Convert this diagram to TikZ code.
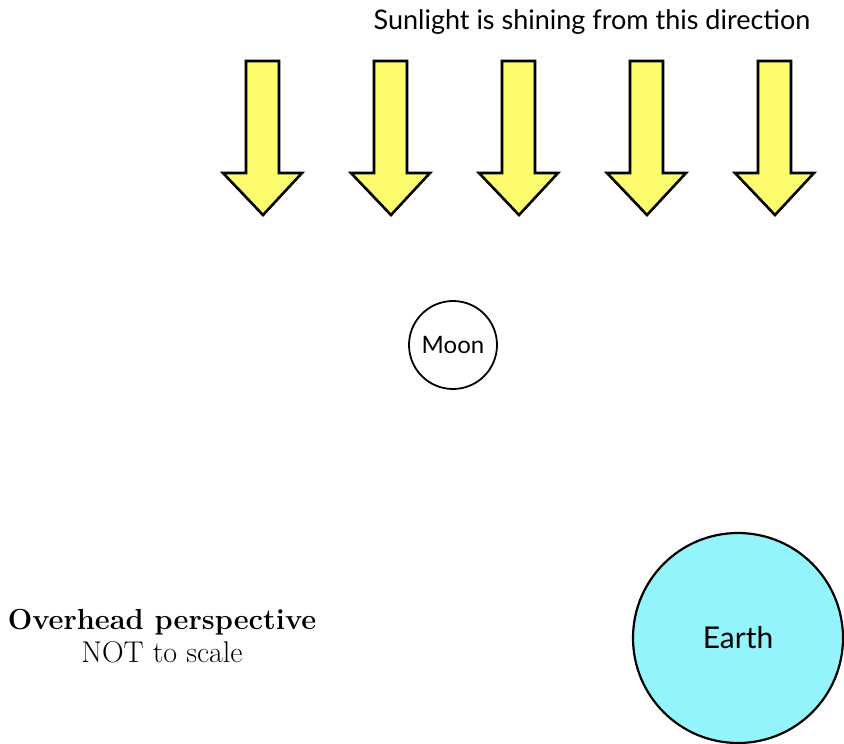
\documentclass[tikz,border=0pt]{standalone}
\usepackage{fontspec}
\setsansfont{Lato}
\usetikzlibrary{positioning}
\definecolor{sunyellow}{RGB}{252,252,108}
\definecolor{earthcyan}{RGB}{148,244,252}
\tikzset{
  sunarrow/.style={draw=black,fill=sunyellow,line width=2.6pt,line join=miter},
  body/.style={circle,draw=black,inner sep=0pt,font=\sffamily\fontsize{24}{27}\selectfont},
}
\begin{document}
\begin{tikzpicture}[x=1pt,y=-1pt]
\useasboundingbox (0,0) rectangle (844,744);
\node[anchor=base,font=\sffamily\fontsize{27}{31}\selectfont] (sun) at (592,29) {Sunlight is shining from this direction};
\foreach \cx in {263,391,519,647,775}{
  \draw[sunarrow] (\cx-17,61) -- (\cx+16,61) -- (\cx+16,173) -- (\cx+39,173) -- (\cx,215) -- (\cx-40,173) -- (\cx-17,173) -- cycle;
}
\node[body,line width=1.8pt,minimum size=88pt] (moon) at (453,345) {Moon};
\node[body,line width=2.2pt,fill=earthcyan,minimum size=210pt,font=\sffamily\fontsize{30}{33}\selectfont] (earth) at (738,638) {Earth};
\node[anchor=base,font=\bfseries\fontsize{29}{33}\selectfont] (title) at (162,629) {Overhead perspective};
\node[anchor=base,font=\fontsize{30}{34}\selectfont] (note) at (162,662) {NOT to scale};
\end{tikzpicture}
\end{document}
